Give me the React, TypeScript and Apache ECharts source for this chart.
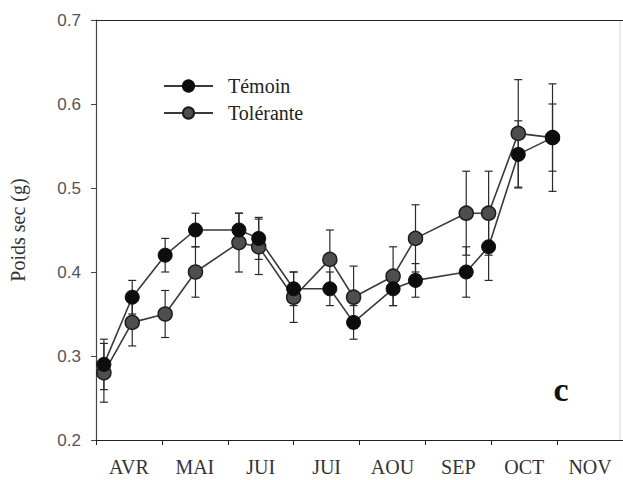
import React, { useEffect, useRef } from "react";
import * as echarts from "echarts";

const months = ["AVR", "MAI", "JUI", "JUI", "AOU", "SEP", "OCT", "NOV"];
const yTicks = [0.2, 0.3, 0.4, 0.5, 0.6, 0.7];
// sampling dates, expressed in months since 1 April
const dates = [0.12, 0.55, 1.05, 1.51, 2.17, 2.47, 3.0, 3.55, 3.91, 4.51, 4.85, 5.62, 5.96, 6.41, 6.93];
const temoin = [0.29, 0.37, 0.42, 0.45, 0.45, 0.44, 0.38, 0.38, 0.34, 0.38, 0.39, 0.40, 0.43, 0.54, 0.56];
const temoinErr = [0.03, 0.02, 0.02, 0.02, 0.02, 0.025, 0.02, 0.02, 0.02, 0.02, 0.02, 0.03, 0.04, 0.04, 0.04];
const tolerante = [0.28, 0.34, 0.35, 0.40, 0.435, 0.43, 0.37, 0.415, 0.37, 0.395, 0.44, 0.47, 0.47, 0.565, 0.56];
const toleranteErr = [0.035, 0.028, 0.028, 0.03, 0.035, 0.033, 0.03, 0.035, 0.037, 0.035, 0.04, 0.05, 0.05, 0.064, 0.064];

const SERIF = "'Liberation Serif', 'DejaVu Serif', serif";
const SANS = "'Liberation Sans', Arial, sans-serif";

function errorSeries(vals: number[], errs: number[], name: string) {
  return {
    type: "custom",
    name: name + " err",
    xAxisIndex: 0,
    yAxisIndex: 0,
    z: 1,
    silent: true,
    data: dates.map((d, i) => [d, vals[i] - errs[i], vals[i] + errs[i]]),
    renderItem: (params: any, api: any) => {
      const x = api.value(0);
      const lo = api.value(1);
      const hi = api.value(2);
      const p1 = api.coord([x, hi]);
      const p2 = api.coord([x, lo]);
      const w = 4;
      const style = { stroke: "#2a2a2a", lineWidth: 1.2 };
      return {
        type: "group",
        children: [
          { type: "line", shape: { x1: p1[0], y1: p1[1], x2: p2[0], y2: p2[1] }, style },
          { type: "line", shape: { x1: p1[0] - w, y1: p1[1], x2: p1[0] + w, y2: p1[1] }, style },
          { type: "line", shape: { x1: p2[0] - w, y1: p2[1], x2: p2[0] + w, y2: p2[1] }, style },
        ],
      };
    },
  };
}

export default function App() {
  const ref = useRef<HTMLDivElement>(null);
  useEffect(() => {
    if (!ref.current) return;
    const chart = echarts.init(ref.current, null, { renderer: "svg" });
    chart.setOption({
      animation: false,
      backgroundColor: "#ffffff",
      grid: { left: 93, top: 20, right: -3, bottom: 40, containLabel: false },
      legend: {
        orient: "vertical",
        left: 158,
        top: 71,
        itemWidth: 49,
        itemHeight: 14,
        itemGap: 7,
        data: ["Témoin", "Tolérante"],
        textStyle: { fontFamily: SERIF, fontSize: 20, color: "#222", padding: [0, 0, 0, 10] },
      },
      xAxis: [
        {
          type: "value",
          min: 0,
          max: 8,
          interval: 1,
          position: "bottom",
          axisLine: { show: true, lineStyle: { color: "#222", width: 1.2 } },
          axisTick: { show: true, inside: false, length: 5, lineStyle: { color: "#222" } },
          axisLabel: { show: false },
          splitLine: { show: false },
        },
        {
          type: "category",
          data: months,
          position: "bottom",
          boundaryGap: true,
          axisLine: { show: false },
          axisTick: { show: false },
          axisLabel: { show: true, fontFamily: SERIF, fontSize: 20, color: "#333", margin: 17 },
          splitLine: { show: false },
        },
        {
          type: "value",
          min: 0,
          max: 8,
          position: "top",
          axisLine: { show: true, lineStyle: { color: "#222", width: 1.2 } },
          axisTick: { show: false },
          axisLabel: { show: false },
          splitLine: { show: false },
        },
      ],
      yAxis: {
        type: "value",
        min: yTicks[0],
        max: yTicks[yTicks.length - 1],
        interval: 0.1,
        name: "Poids sec (g)",
        nameLocation: "middle",
        nameGap: 68,
        nameTextStyle: { fontFamily: SERIF, fontSize: 20, color: "#333" },
        axisLine: { show: true, lineStyle: { color: "#444", width: 1.2 } },
        axisTick: { show: true, inside: false, length: 5, lineStyle: { color: "#444" } },
        axisLabel: {
          fontFamily: SANS,
          fontSize: 17,
          color: "#555",
          margin: 15,
          formatter: (v: number) => v.toFixed(1),
        },
        splitLine: { show: false },
      },
      graphic: [
        {
          type: "line",
          shape: { x1: 620, y1: 20, x2: 620, y2: 440 },
          style: { stroke: "#d8d8d8", lineWidth: 1 },
        },
        {
          type: "text",
          x: 561,
          y: 389,
          style: {
            text: "c",
            fontFamily: SERIF,
            fontSize: 34,
            fontWeight: "bold",
            fill: "#111",
            textAlign: "center",
            textVerticalAlign: "middle",
          },
        },
      ],
      series: [
        errorSeries(tolerante, toleranteErr, "Tolérante"),
        errorSeries(temoin, temoinErr, "Témoin"),
        {
          type: "line",
          name: "Tolérante",
          xAxisIndex: 0,
          yAxisIndex: 0,
          z: 3,
          data: dates.map((d, i) => [d, tolerante[i]]),
          symbol: "circle",
          symbolSize: 14,
          lineStyle: { color: "#3a3a3a", width: 1.6 },
          itemStyle: { color: "#4e4e4e", borderColor: "#1c1c1c", borderWidth: 1.5 },
        },
        {
          type: "line",
          name: "Témoin",
          xAxisIndex: 0,
          yAxisIndex: 0,
          z: 4,
          data: dates.map((d, i) => [d, temoin[i]]),
          symbol: "circle",
          symbolSize: 14,
          lineStyle: { color: "#3a3a3a", width: 1.6 },
          itemStyle: { color: "#0d0d0d", borderColor: "#0d0d0d", borderWidth: 1 },
        },
      ],
    });
    return () => chart.dispose();
  }, []);
  return (
    <div
      ref={ref}
      style={{ position: "absolute", left: 0, top: 0, width: 623, height: 480 }}
    />
  );
}
